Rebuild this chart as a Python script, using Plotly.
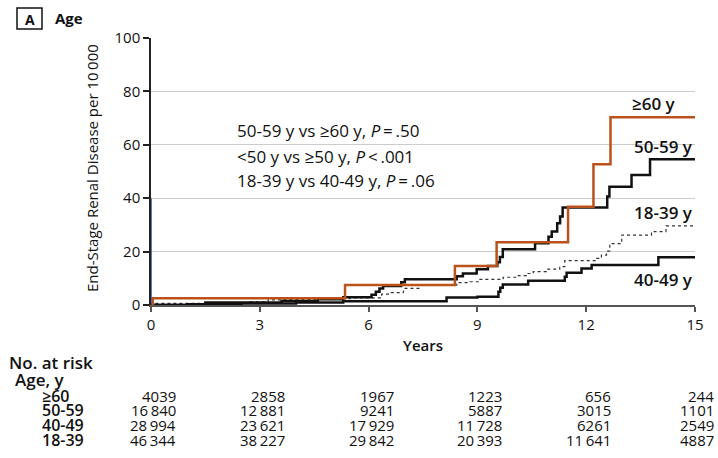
import plotly.graph_objects as go

# Cumulative incidence of end-stage renal disease (per 10 000) by age group
t_60 = [0, 0.05, 5.35, 8.38, 9.53, 11.5, 12.2, 12.67, 15]
v_60 = [0, 2.5, 7.5, 14.6, 23.5, 36.8, 52.7, 70.3, 70.3]

t_50 = [0, 1.5, 3.6, 4.6, 5.3, 6.08, 6.2, 6.3, 6.4, 6.9, 7.0, 8.43, 8.6, 8.98,
        9.29, 9.55, 9.62, 9.7, 10.59, 10.96, 11.05, 11.2, 11.28, 11.35,
        12.58, 12.64, 13.25, 13.76, 15]
v_50 = [0, 0.9, 1.5, 2.2, 2.9, 3.8, 5.0, 6.2, 7.1, 8.5, 9.6, 10.8, 11.8, 13.4,
        14.6, 16.0, 18.0, 20.9, 23.1, 25.6, 27.5, 30.6, 33.1, 36.5,
        40.6, 44.3, 48.7, 54.6, 54.6]

t_40 = [0, 1.0, 2.5, 4.0, 5.3, 8.15, 9.0, 9.58, 9.63, 9.7, 10.4, 11.41, 11.46,
        11.87, 12.15, 13.99, 15]
v_40 = [0, 0.3, 0.6, 0.9, 1.4, 2.8, 3.1, 5.0, 6.5, 7.7, 9.1, 10.6, 12.1,
        13.7, 15.0, 17.9, 17.9]

t_18 = [0, 0.06, 1.53, 2.73, 3.23, 3.56, 4.6, 5.49, 6.36, 6.6, 6.96, 7.42, 8.43,
        8.8, 9.07, 9.71, 10.08, 10.35, 10.54, 10.9, 11.27, 11.41, 12.29, 12.42,
        12.56, 12.65, 12.98, 13.8, 14.2, 15]
v_18 = [0, 0.6, 0.9, 1.2, 1.9, 2.1, 2.4, 2.7, 4.1, 4.6, 6.2, 7.4, 8.4,
        8.7, 9.6, 10.4, 11.0, 11.8, 12.5, 13.4, 14.4, 16.6, 17.5, 18.7,
        20.2, 23.0, 26.2, 27.5, 29.6, 29.6]

# Number at risk table
risk_years = [0, 3, 6, 9, 12, 15]
risk_groups = ["≥60", "50-59", "40-49", "18-39"]
risk_counts = [
    ["4039", "2858", "1967", "1223", "656", "244"],
    ["16\u2009840", "12\u2009881", "9241", "5887", "3015", "1101"],
    ["28\u2009994", "23\u2009621", "17\u2009929", "11\u2009728", "6261", "2549"],
    ["46\u2009344", "38\u2009227", "29\u2009842", "20\u2009393", "11\u2009641", "4887"],
]

curve_labels = ["≥60 y", "50-59 y", "18-39 y", "40-49 y"]
stat_lines = [
    "50-59 y vs ≥60 y, <i>P</i>\u2009=\u2009.50",
    "&lt;50 y vs ≥50 y, <i>P</i>\u2009&lt;\u2009.001",
    "18-39 y vs 40-49 y, <i>P</i>\u2009=\u2009.06",
]

FONT = "Open Sans"
INK = "#111111"
ORANGE = "#B9531B"
W, H = 718, 458
ML, MR, MT, MB = 151, 23, 38, 153
PW, PH = W - ML - MR, H - MT - MB


def px_x(px):
    return (px - ML) / PW


def px_y(py):
    return (H - MB - py) / PH


def year_px(yr):
    return ML + yr / 15 * PW


fig = go.Figure()
fig.add_trace(go.Scatter(x=t_18, y=v_18, mode="lines", line_shape="hv",
                         line=dict(color="#333333", width=1.2, dash="dot")))
fig.add_trace(go.Scatter(x=t_40, y=v_40, mode="lines", line_shape="hv",
                         line=dict(color=INK, width=2.5)))
fig.add_trace(go.Scatter(x=t_50, y=v_50, mode="lines", line_shape="hv",
                         line=dict(color=INK, width=2.5)))
fig.add_trace(go.Scatter(x=t_60, y=v_60, mode="lines", line_shape="hv",
                         line=dict(color=ORANGE, width=2.5)))

ann = []
# curve labels
for txt, x, y in zip(curve_labels, [14.53, 15, 15, 15], [75.3, 59.2, 34.8, 9.4]):
    ann.append(dict(x=x, y=y, xref="x", yref="y", text=txt, showarrow=False,
                    xanchor="right", yanchor="middle",
                    font=dict(family=FONT, size=17, color=INK, weight=600)))
# statistics
for txt, y in zip(stat_lines, [65.2, 55.8, 46.8]):
    ann.append(dict(x=2.32, y=y, xref="x", yref="y", text=txt, showarrow=False,
                    xanchor="left", yanchor="middle",
                    font=dict(family=FONT, size=17, color=INK)))
# panel title
ann.append(dict(x=px_x(30), y=px_y(19), xref="paper", yref="paper", text="A",
                showarrow=False, xanchor="center", yanchor="middle",
                font=dict(family=FONT, size=14, color=INK, weight=700)))
ann.append(dict(x=px_x(53), y=px_y(18), xref="paper", yref="paper", text="Age",
                showarrow=False, xanchor="left", yanchor="middle",
                font=dict(family=FONT, size=15, color=INK, weight=700)))
# axis titles
ann.append(dict(x=px_x(423), y=px_y(345), xref="paper", yref="paper", text="Years",
                showarrow=False, xanchor="center", yanchor="middle",
                font=dict(family=FONT, size=15, color=INK, weight=600)))
ann.append(dict(x=px_x(92), y=px_y(168), xref="paper", yref="paper",
                text="End-Stage Renal Disease per 10\u2009000", textangle=-90,
                showarrow=False, xanchor="center", yanchor="middle",
                font=dict(family=FONT, size=15, color=INK)))
# number at risk table
ann.append(dict(x=px_x(7), y=px_y(362), xref="paper", yref="paper", text="No. at risk",
                showarrow=False, xanchor="left", yanchor="middle",
                font=dict(family=FONT, size=17, color=INK, weight=600)))
ann.append(dict(x=px_x(13), y=px_y(379), xref="paper", yref="paper", text="Age, y",
                showarrow=False, xanchor="left", yanchor="middle",
                font=dict(family=FONT, size=17, color=INK, weight=600)))
row_y = [396, 410, 425, 440]
col_right = [year_px(yr) + 27 for yr in risk_years]
col_right[-1] = 716
for g, counts, ry in zip(risk_groups, risk_counts, row_y):
    ann.append(dict(x=px_x(40), y=px_y(ry), xref="paper", yref="paper", text=g,
                    showarrow=False, xanchor="left", yanchor="middle",
                    font=dict(family=FONT, size=16, color=INK, weight=600)))
    for cx, c in zip(col_right, counts):
        ann.append(dict(x=px_x(cx), y=px_y(ry), xref="paper", yref="paper", text=c,
                        showarrow=False, xanchor="right", yanchor="middle",
                        font=dict(family=FONT, size=15, color=INK)))

fig.update_layout(
    width=W, height=H, autosize=False,
    margin=dict(l=ML, r=MR, t=MT, b=MB, pad=0),
    paper_bgcolor="white", plot_bgcolor="white",
    showlegend=False,
    annotations=ann,
    shapes=[
        dict(type="rect", xref="paper", yref="paper",
             x0=px_x(17), x1=px_x(42), y0=px_y(29), y1=px_y(8),
             line=dict(color=INK, width=1.5)),
        dict(type="line", xref="x", yref="y", x0=0, x1=0, y0=0, y1=40,
             line=dict(color="#2E4F8F", width=1.5), layer="above"),
    ],
    xaxis=dict(range=[0, 15], tickvals=risk_years, showgrid=False, zeroline=False,
               showline=True, linecolor="#555555", linewidth=1.5,
               ticks="outside", ticklen=5, tickcolor="#555555", tickwidth=1.5,
               tickfont=dict(family=FONT, size=15, color=INK), fixedrange=True),
    yaxis=dict(range=[0, 100], tickvals=[0, 20, 40, 60, 80, 100], showgrid=True,
               gridcolor="#CCCCCC", gridwidth=1, zeroline=False,
               showline=True, linecolor="#222222", linewidth=1.5,
               ticks="outside", ticklen=6, tickcolor="#222222", tickwidth=1.5,
               tickfont=dict(family=FONT, size=15, color=INK), fixedrange=True),
)

fig.write_html("out.html")
